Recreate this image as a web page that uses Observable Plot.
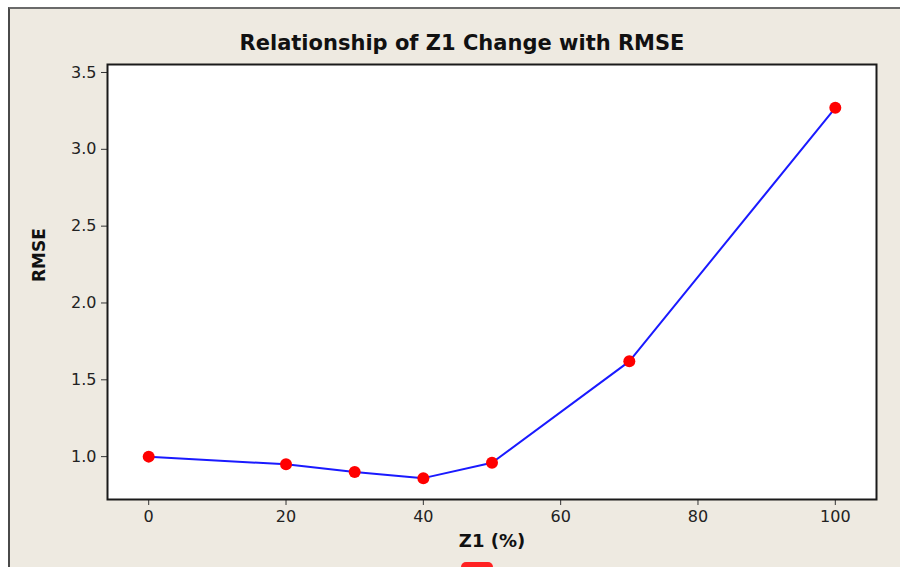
<!DOCTYPE html>
<html>
<head>
<meta charset="utf-8">
<script src="https://cdn.jsdelivr.net/npm/d3@7"></script>
<script src="https://cdn.jsdelivr.net/npm/@observablehq/plot@0.6"></script>
<style>
  html, body { margin: 0; padding: 0; background: #ffffff; }
  #wrap { position: relative; width: 900px; height: 567px; overflow: hidden; }
  #panel { position: absolute; left: 8px; top: 7px; width: 900px; height: 570px;
           background: #eeeae1; border-top: 2px solid #6a6a6a; border-left: 2px solid #4a4a4a; }
  #mark { position: absolute; left: 461px; top: 562px; width: 32px; height: 12px;
          background: #f22; border-radius: 5px; }
  #chart { position: absolute; left: 0; top: 0; }
  #chart svg { background: transparent; }
</style>
</head>
<body>
<div id="wrap"><div id="panel"></div><div id="mark"></div><div id="chart"></div></div>
<script>
const z1 = [0, 20, 30, 40, 50, 70, 100];
const rmse = [1.0, 0.95, 0.90, 0.86, 0.96, 1.62, 3.27];
const xTicks = [0, 20, 40, 60, 80, 100];
const yTicks = [1.0, 1.5, 2.0, 2.5, 3.0, 3.5];
const title = "Relationship of Z1 Change with RMSE";
const xLabel = "Z1 (%)";
const yLabel = "RMSE";

const data = z1.map((x, i) => ({x, y: rmse[i]}));

const plot = Plot.plot({
  width: 900,
  height: 567,
  marginLeft: 107,
  marginTop: 64,
  marginRight: 24,
  marginBottom: 68,
  style: {background: "transparent", fontFamily: "DejaVu Sans", fontSize: "16px", color: "#222"},
  x: {domain: [-6, 106], ticks: xTicks, label: null},
  y: {domain: [0.721, 3.552], ticks: yTicks, label: null, tickFormat: d3.format(".1f")},
  marks: [
    Plot.frame({fill: "white", stroke: "none"}),
    Plot.axisX({ticks: xTicks, tickSize: 6, tickPadding: 5, fontSize: 16, stroke: "#333", label: null}),
    Plot.axisY({ticks: yTicks, tickSize: 6, tickPadding: 5, fontSize: 16, stroke: "#333", label: null, tickFormat: d3.format(".1f")}),
    Plot.line(data, {x: "x", y: "y", stroke: "#1a1aff", strokeWidth: 2}),
    Plot.dot(data, {x: "x", y: "y", r: 6, fill: "#ff0000", stroke: "none"}),
    Plot.frame({stroke: "#1a1a1a", strokeWidth: 2}),
    Plot.text([title], {frameAnchor: "top", dx: -30, dy: -29, fontSize: 21, fontWeight: "bold", fill: "#111", text: d => d}),
    Plot.text([yLabel], {frameAnchor: "left", dx: -68, rotate: -90, fontSize: 17, fontWeight: "bold", fill: "#111", text: d => d}),
    Plot.text([xLabel], {frameAnchor: "bottom", dy: 47, fontSize: 18, fontWeight: "bold", fill: "#111", text: d => d})
  ]
});
document.getElementById("chart").appendChild(plot);
</script>
</body>
</html>
